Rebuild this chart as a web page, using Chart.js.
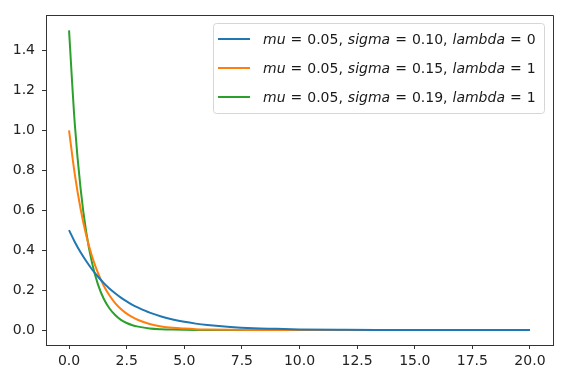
<!DOCTYPE html>
<html>
<head>
<meta charset="utf-8">
<script src="https://cdn.jsdelivr.net/npm/chart.js@4"></script>
<style>
  body { margin: 0; background: #fff; }
  canvas { display: block; }
</style>
</head>
<body>
<canvas id="chart" width="567" height="381"></canvas>
<script>
// sample points along x
const xValues = [0, 0.25, 0.5, 0.75, 1, 1.25, 1.5, 1.75, 2, 2.25, 2.5, 2.75, 3, 3.5, 4, 4.5, 5, 5.5, 6, 7, 8, 9, 10, 12, 14, 16, 18, 20];

const blueValues   = [0.50, 0.441, 0.389, 0.344, 0.303, 0.268, 0.236, 0.208, 0.184, 0.162, 0.143, 0.126, 0.112, 0.087, 0.068, 0.053, 0.041, 0.032, 0.025, 0.015, 0.009, 0.006, 0.003, 0.001, 0.0005, 0.0002, 0.0001, 0];
const orangeValues = [1.00, 0.779, 0.607, 0.472, 0.368, 0.287, 0.223, 0.174, 0.135, 0.105, 0.082, 0.064, 0.050, 0.030, 0.018, 0.011, 0.007, 0.004, 0.0025, 0.001, 0.0003, 0.0001, 0, 0, 0, 0, 0, 0];
const greenValues  = [1.50, 1.031, 0.709, 0.487, 0.335, 0.230, 0.158, 0.109, 0.075, 0.051, 0.035, 0.024, 0.017, 0.008, 0.004, 0.002, 0.001, 0.0004, 0.0002, 0, 0, 0, 0, 0, 0, 0, 0, 0];

// legend labels: [mu, sigma, lambda]
const seriesParams = [
    ['0.05', '0.10', '0'],
    ['0.05', '0.15', '1'],
    ['0.05', '0.19', '1']
];
const seriesColors = ['#1f77b4', '#ff7f0e', '#2ca02c'];

const xTicks = [0, 2.5, 5, 7.5, 10, 12.5, 15, 17.5, 20];
const yTicks = [0, 0.2, 0.4, 0.6, 0.8, 1.0, 1.2, 1.4];

const FONT = '"DejaVu Sans", sans-serif';

function toPoints(ys) {
    return xValues.map((x, i) => ({ x: x, y: ys[i] }));
}

// 축 테두리 (위/오른쪽)
const framePlugin = {
    id: 'frame',
    afterDraw(chart) {
        const { ctx, chartArea: a } = chart;
        ctx.save();
        ctx.strokeStyle = '#333';
        ctx.lineWidth = 1;
        ctx.beginPath();
        ctx.moveTo(Math.round(a.left) + 0.5, Math.round(a.top) + 0.5);
        ctx.lineTo(Math.round(a.right) + 0.5, Math.round(a.top) + 0.5);
        ctx.lineTo(Math.round(a.right) + 0.5, Math.round(a.bottom) + 0.5);
        ctx.stroke();
        ctx.restore();
    }
};

// matplotlib 스타일 범례 (mathtext 흉내)
const legendPlugin = {
    id: 'mathLegend',
    afterDraw(chart) {
        const ctx = chart.ctx;
        const box = { x: 213.5, y: 23.5, w: 331, h: 90 };
        ctx.save();
        ctx.fillStyle = 'rgba(255,255,255,0.8)';
        ctx.strokeStyle = '#d6d6d6';
        ctx.lineWidth = 1;
        ctx.beginPath();
        ctx.roundRect(box.x, box.y, box.w, box.h, 3);
        ctx.fill();
        ctx.stroke();

        const rowY = [39, 68, 97];
        const gap = 5;
        seriesParams.forEach((p, i) => {
            const y = rowY[i];
            ctx.strokeStyle = seriesColors[i];
            ctx.lineWidth = 2;
            ctx.beginPath();
            ctx.moveTo(218, y);
            ctx.lineTo(250, y);
            ctx.stroke();

            // mathtext: 변수는 이탤릭, 숫자는 보통체  [text, italic, gap after]
            const parts = [
                ['mu', true, gap], ['=', false, gap], [p[0] + ',', false, gap],
                ['sigma', true, gap], ['=', false, gap], [p[1] + ',', false, gap],
                ['lambda', true, gap], ['=', false, gap], [p[2], false, 0]
            ];
            let x = 263;
            ctx.fillStyle = '#1a1a1a';
            ctx.textBaseline = 'alphabetic';
            parts.forEach(([txt, ital, g]) => {
                ctx.font = (ital ? 'italic ' : '') + '14px ' + FONT;
                ctx.fillText(txt, x, y + 5);
                x += ctx.measureText(txt).width + g;
            });
        });
        ctx.restore();
    }
};

const ctx = document.getElementById('chart').getContext('2d');
new Chart(ctx, {
    type: 'scatter',
    data: {
        datasets: [blueValues, orangeValues, greenValues].map((vals, i) => ({
            label: 'series ' + i,
            data: toPoints(vals),
            showLine: true,
            borderColor: seriesColors[i],
            backgroundColor: seriesColors[i],
            borderWidth: 2,
            pointRadius: 0,
            cubicInterpolationMode: 'monotone',
            fill: false
        }))
    },
    options: {
        responsive: false,
        animation: false,
        layout: { padding: { left: 0, top: 15, right: 14, bottom: 0 } },
        plugins: {
            legend: { display: false },
            tooltip: { enabled: false }
        },
        scales: {
            x: {
                type: 'linear',
                min: -1,
                max: 21,
                afterBuildTicks: s => { s.ticks = xTicks.map(v => ({ value: v })); },
                afterFit: s => { s.height = 36; },
                grid: { display: true, drawOnChartArea: false, drawTicks: true, tickLength: 4, color: '#333' },
                border: { display: true, color: '#333', width: 1 },
                ticks: {
                    color: '#222',
                    padding: 4,
                    maxRotation: 0,
                    font: { family: FONT, size: 14 },
                    callback: v => Number(v).toFixed(1)
                }
            },
            y: {
                type: 'linear',
                min: -0.075,
                max: 1.575,
                afterBuildTicks: s => { s.ticks = yTicks.map(v => ({ value: v })); },
                afterFit: s => { s.width = 46; },
                grid: { display: true, drawOnChartArea: false, drawTicks: true, tickLength: 4, color: '#333' },
                border: { display: true, color: '#333', width: 1 },
                ticks: {
                    color: '#222',
                    padding: 7,
                    font: { family: FONT, size: 14 },
                    callback: v => Number(v).toFixed(1)
                }
            }
        }
    },
    plugins: [framePlugin, legendPlugin]
});
</script>
</body>
</html>
